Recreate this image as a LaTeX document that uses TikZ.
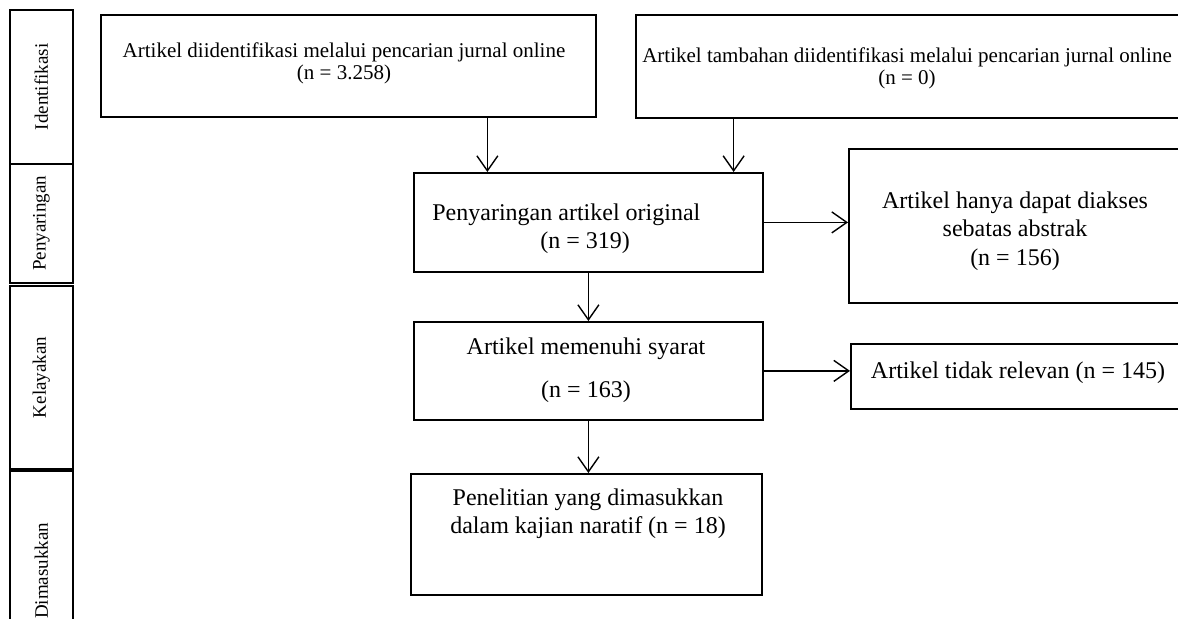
\documentclass[tikz,border=0pt]{standalone}
\usepackage{fontspec}
\setmainfont{Liberation Serif}
\usetikzlibrary{calc,arrows.meta}

\begin{document}
\begin{tikzpicture}[x=0.5pt,y=-0.5pt,
  box/.style={draw=black, line width=0.9pt, inner sep=0pt},
  txt/.style={font=\fontsize{12}{14.2}\selectfont, align=center, inner sep=0pt},
  toptxt/.style={font=\fontsize{10.5}{11}\selectfont, align=center, inner sep=0pt},
  stagetxt/.style={font=\fontsize{9.5}{11}\selectfont, rotate=90, inner sep=0pt},
  arr/.style={-{Straight Barb[length=7.5pt,width=10.5pt]}, line width=0.7pt}]

% ------------------------------------------------------------------
% Layout in image pixels: x to the right, y downwards.
% Each box is specified as: \flowbox{name}{x}{y}{width}{height}
% Each stage on the left as: \stagebox{name}{y}{height}{label}
% ------------------------------------------------------------------
\useasboundingbox (0,0) rectangle (1178,619);

\newcommand{\flowbox}[5]{%
  \node[box, anchor=north west,
        minimum width={#4*0.5pt}, minimum height={#5*0.5pt}]
    (#1) at (#2,#3) {};
}
\newcommand{\stagebox}[4]{%
  \flowbox{#1}{9}{#2}{63}{#3}
  \node[stagetxt] (#1-t) at (#1.center) {#4};
}

% Stages on the left (the last one runs off the page).
\stagebox{idf}{9}{154}{Identifikasi}
\stagebox{pyr}{163}{119}{Penyaringan}
\stagebox{kly}{285}{183}{Kelayakan}
\stagebox{dms}{470}{200}{Dimasukkan}

% Flow boxes.
\flowbox{ida}{100}{14}{495}{102}
\flowbox{idb}{635}{14}{546}{103}
\flowbox{pen}{413}{172}{349}{99}
\flowbox{aks}{848}{148}{333}{154}
\flowbox{mem}{413}{321}{349}{98}
\flowbox{tdk}{850}{343}{332}{65}
\flowbox{pnl}{410}{473}{351}{121}

% Texts inside the boxes.
\node[toptxt] (ida-t) at (344,63)
  {Artikel diidentifikasi melalui pencarian jurnal online\\(n = 3.258)};
\node[toptxt] (idb-t) at (907,68)
  {Artikel tambahan diidentifikasi melalui pencarian jurnal online\\(n = 0)};
\node[txt, align=left, anchor=west] (pen-t) at (432,229)
  {Penyaringan artikel original\\\hspace*{54pt}(n = 319)};
\node[txt] (aks-t) at (1015,231)
  {Artikel hanya dapat diakses\\sebatas abstrak\\(n = 156)};
\node[txt, font=\fontsize{12}{21.5}\selectfont] (mem-t) at (586,370)
  {Artikel memenuhi syarat\\(n = 163)};
\node[txt] (tdk-t) at (1018,373) {Artikel tidak relevan (n = 145)};
\node[txt] (pnl-t) at (588,514)
  {Penelitian yang dimasukkan\\dalam kajian naratif (n = 18)};

% Connectors.
\coordinate (inA) at ($(pen.north west)!0.212!(pen.north east)$);
\coordinate (inB) at ($(pen.north west)!0.914!(pen.north east)$);
\draw[arr] (ida.south -| inA) -- (inA);
\draw[arr] (idb.south -| inB) -- (inB);
\draw[arr] (pen.east) -- (pen.east -| aks.west);
\draw[arr] (pen.south) -- (mem.north);
\draw[arr] (mem.east) -- (mem.east -| tdk.west);
\draw[arr] (mem.south) -- (mem.south |- pnl.north);

\end{tikzpicture}
\end{document}
